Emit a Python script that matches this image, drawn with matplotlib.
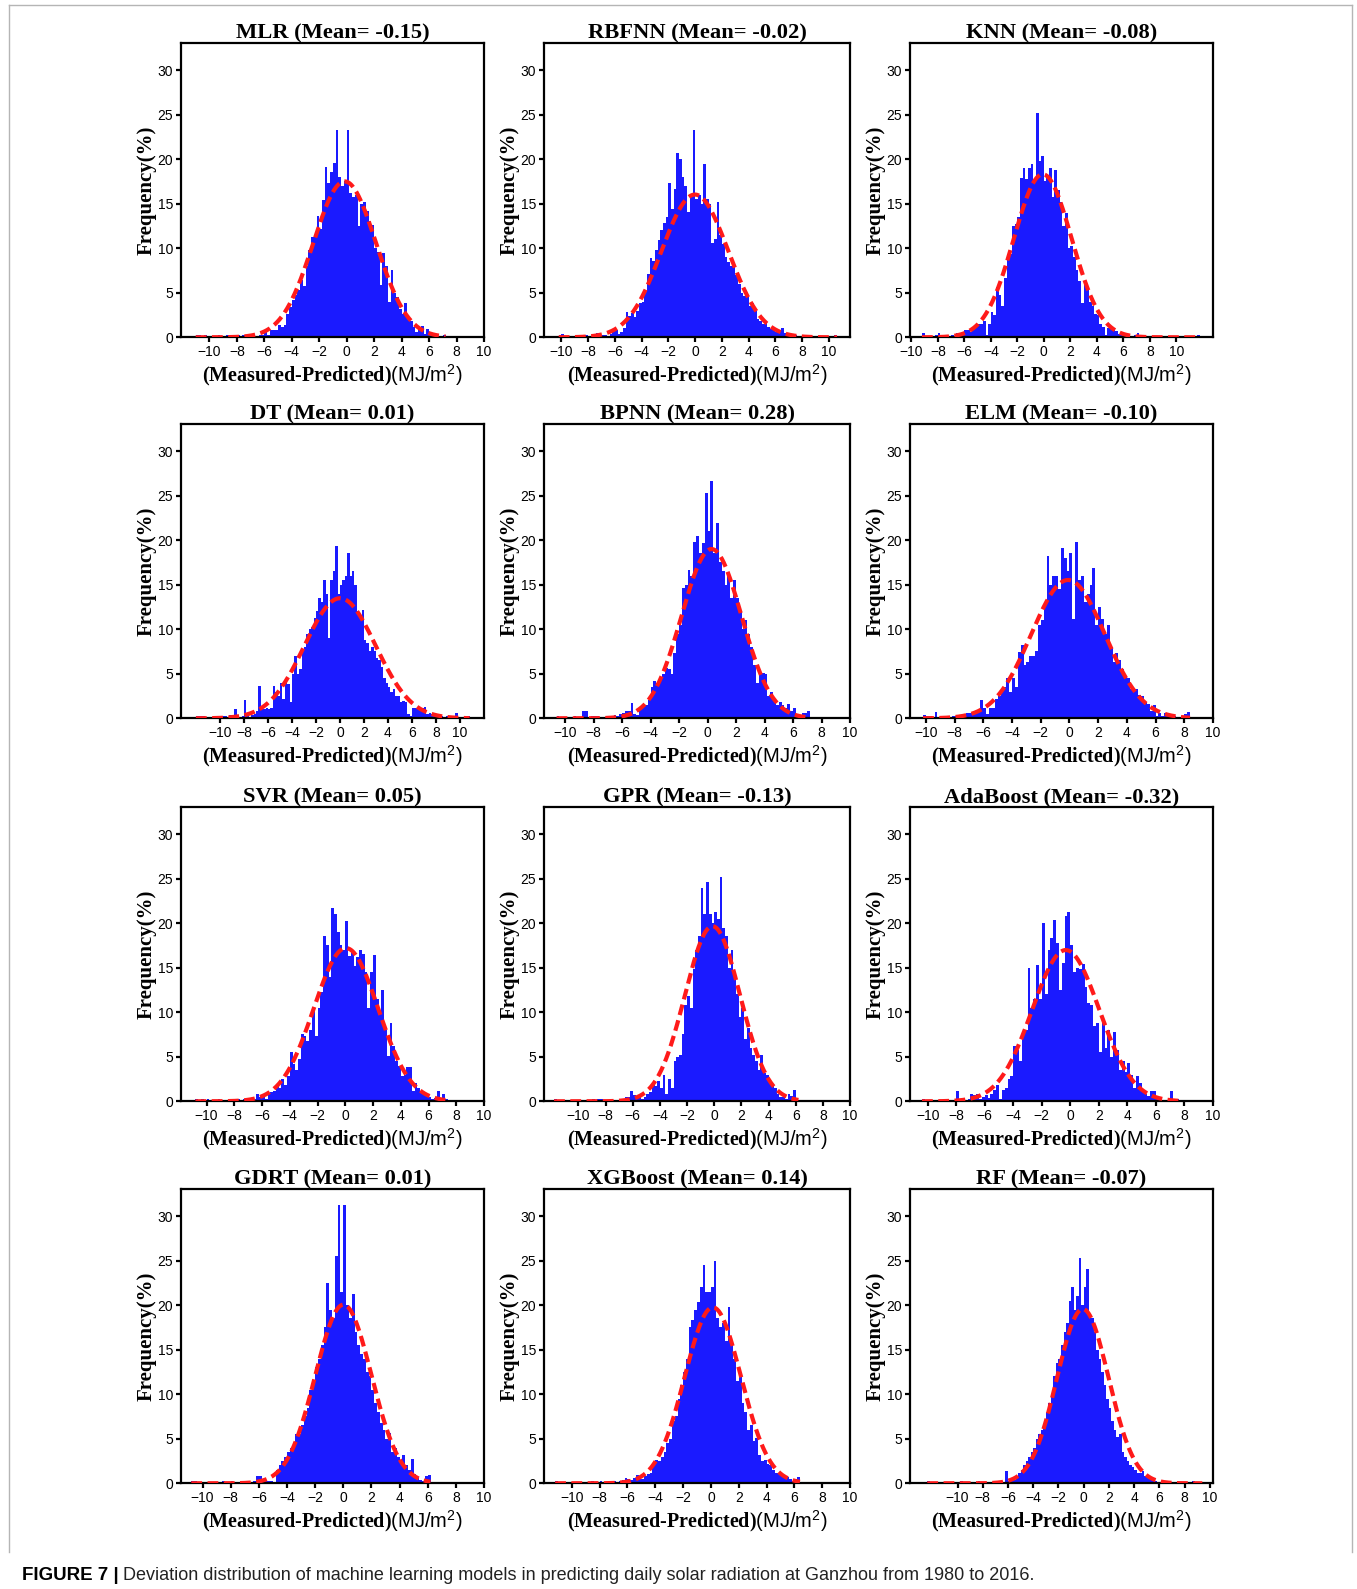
import numpy as np
import matplotlib
matplotlib.use('Agg')
import matplotlib.pyplot as plt
from matplotlib import rcParams
from matplotlib.lines import Line2D

rcParams['font.family'] = 'Liberation Sans'
rcParams['mathtext.fontset'] = 'custom'
rcParams['mathtext.rm'] = 'Liberation Sans'
rcParams['mathtext.it'] = 'Liberation Sans:italic'
rcParams['mathtext.bf'] = 'Liberation Sans:bold'
rcParams['axes.linewidth'] = 1.6

# ---- data ----
models = ['MLR', 'RBFNN', 'KNN', 'DT', 'BPNN', 'ELM',
          'SVR', 'GPR', 'AdaBoost', 'GDRT', 'XGBoost', 'RF']
means = [-0.15, -0.02, -0.08, 0.01, 0.28, -0.10,
         0.05, -0.13, -0.32, 0.01, 0.14, -0.07]
# std of the fitted normal curve (from the curve peak)
sigmas = [2.28, 2.49, 2.18, 2.96, 2.10, 2.57,
          2.32, 2.03, 2.35, 1.99, 2.02, 2.04]
bin_width = 0.2
bin_starts = [-11.0, -10.2, -9.2, -12.0, -10.6, -10.2,
              -10.8, -11.8, -10.4, -10.8, -11.2, -12.4]
xlims = [(-12.07, 10.0), (-11.3, 11.57), (-10.1, 12.77), (-13.24, 12.0),
         (-11.48, 10.0), (-11.11, 10.0), (-11.84, 10.0), (-12.54, 10.0),
         (-11.24, 10.0), (-11.53, 10.0), (-12.0, 10.0), (-13.77, 10.25)]

freq_mlr = [0.3, 0.3, 0.0, 0.3, 0.0, 0.0, 0.0, 0.0, 0.3, 0.0,
            0.0, 0.3, 0.0, 0.0, 0.3, 0.3, 0.0, 0.3, 0.0, 0.3,
            0.3, 0.0, 0.0, 0.3, 0.3, 0.6, 0.3, 0.8, 0.8, 0.8,
            1.4, 1.2, 1.4, 2.6, 3.4, 4.2, 4.8, 5.3, 6.4, 5.8,
            8.0, 9.8, 11.3, 11.3, 13.6, 12.2, 15.4, 19.1, 17.3, 18.6,
            19.6, 23.3, 18.0, 17.0, 17.5, 23.3, 16.2, 15.8, 16.0, 12.5,
            15.0, 15.2, 14.2, 13.0, 12.6, 10.0, 9.6, 5.9, 9.5, 8.0,
            4.0, 7.6, 5.0, 4.5, 3.2, 2.6, 3.8, 2.0, 1.8, 1.2,
            0.6, 1.0, 1.3, 0.4, 0.9, 0.6, 0.3, 0.3, 0.2, 0.0,
            0.3]
freq_rbfnn = [0.3, 0.4, 0.2, 0.0, 0.0, 0.0, 0.2, 0.0, 0.2, 0.2,
              0.3, 0.2, 0.0, 0.2, 0.5, 0.0, 0.3, 0.3, 0.2, 0.4,
              0.8, 0.8, 0.4, 0.6, 1.0, 2.8, 2.4, 2.7, 2.3, 3.0,
              3.9, 4.0, 5.2, 7.1, 8.9, 8.6, 9.8, 10.9, 12.0, 12.8,
              13.5, 17.3, 14.4, 16.6, 20.7, 20.0, 18.0, 17.0, 14.1, 16.0,
              23.3, 15.5, 16.0, 15.0, 19.4, 15.5, 15.0, 10.6, 11.0, 15.2,
              11.5, 10.5, 9.0, 8.5, 8.0, 8.0, 7.0, 6.0, 5.0, 4.6,
              4.8, 3.5, 3.8, 3.0, 2.0, 1.8, 1.5, 1.6, 1.2, 0.9,
              0.8, 0.6, 0.8, 1.0, 0.5, 0.3, 0.2, 0.3, 0.3, 0.2,
              0.0, 0.2, 0.0, 0.0, 0.0, 0.2, 0.2, 0.0, 0.0, 0.0,
              0.0, 0.0, 0.0, 0.3]
freq_knn = [0.5, 0.0, 0.0, 0.0, 0.2, 0.3, 0.5, 0.2, 0.0, 0.3,
            0.2, 0.3, 0.0, 0.5, 0.2, 0.3, 0.8, 0.8, 0.6, 1.0,
            1.2, 1.5, 1.5, 1.8, 0.3, 1.5, 2.8, 2.5, 5.6, 4.8,
            3.5, 6.7, 9.3, 9.3, 12.5, 12.7, 13.5, 17.9, 19.0, 17.8,
            19.0, 19.5, 17.5, 25.2, 19.8, 20.3, 17.5, 18.0, 19.0, 15.8,
            18.8, 16.5, 15.2, 12.5, 14.0, 10.0, 10.2, 9.0, 7.5, 6.3,
            3.8, 6.0, 5.6, 4.0, 3.5, 2.6, 2.5, 1.5, 1.2, 0.3,
            1.0, 1.0, 0.8, 0.7, 0.4, 0.3, 0.2, 0.3, 0.2, 0.0,
            0.3, 0.5, 0.0, 0.0, 0.2, 0.0, 0.0, 0.2, 0.0, 0.0,
            0.0, 0.2, 0.0, 0.0, 0.0, 0.0, 0.0, 0.2, 0.0, 0.0,
            0.0, 0.0, 0.0, 0.0, 0.3]
freq_dt = [0.3, 0.3, 0.3, 0.3, 0.0, 0.0, 0.0, 0.0, 0.0, 0.0,
           0.3, 0.3, 0.3, 0.0, 0.4, 0.0, 1.0, 0.3, 0.0, 0.3,
           2.0, 0.3, 0.0, 0.4, 0.5, 0.8, 3.6, 1.0, 1.0, 1.2,
           1.0, 1.2, 3.6, 3.0, 2.5, 4.0, 2.2, 4.4, 3.8, 1.8,
           5.0, 7.0, 5.0, 5.5, 7.5, 8.0, 9.5, 10.0, 10.2, 11.3,
           12.0, 13.5, 13.0, 15.5, 14.0, 9.0, 15.5, 16.5, 19.3, 14.0,
           15.0, 15.5, 16.0, 18.6, 16.0, 16.5, 15.0, 12.0, 11.5, 12.2,
           8.8, 8.5, 7.5, 8.0, 7.5, 6.8, 6.5, 5.8, 4.5, 4.0,
           3.5, 3.0, 3.3, 2.5, 2.5, 1.8, 1.9, 1.8, 0.5, 0.3,
           1.2, 1.2, 1.3, 1.2, 1.2, 1.3, 0.5, 0.6, 0.5, 0.5,
           0.3, 0.3, 0.3, 0.0, 0.3, 0.0, 0.3, 0.0, 0.6, 0.0,
           0.0, 0.0, 0.3, 0.3]
freq_bpnn = [0.3, 0.1, 0.0, 0.1, 0.0, 0.0, 0.3, 0.0, 0.0, 0.8,
             0.8, 0.0, 0.3, 0.3, 0.3, 0.2, 0.2, 0.0, 0.3, 0.2,
             0.4, 0.3, 0.5, 0.6, 0.8, 0.8, 1.7, 0.5, 0.4, 1.2,
             1.4, 1.5, 2.0, 3.5, 4.2, 4.0, 4.5, 5.0, 5.7, 5.5,
             5.0, 7.3, 9.5, 10.5, 14.6, 15.0, 16.6, 16.0, 19.8, 20.5,
             18.5, 19.7, 25.3, 21.0, 26.6, 18.5, 21.9, 17.5, 16.5, 15.0,
             16.0, 13.5, 15.5, 13.5, 12.0, 10.0, 11.0, 9.5, 8.0, 6.0,
             4.0, 5.2, 5.1, 5.0, 2.5, 3.0, 2.0, 1.5, 1.8, 1.5,
             1.2, 1.6, 0.8, 1.2, 0.4, 0.3, 0.6, 0.6, 0.8]
freq_elm = [0.4, 0.3, 0.3, 0.0, 0.7, 0.0, 0.0, 0.3, 0.3, 0.0,
            0.3, 0.3, 0.3, 0.0, 0.3, 0.6, 0.6, 0.7, 0.8, 0.8,
            2.0, 1.2, 0.5, 1.2, 1.2, 2.2, 2.5, 3.0, 3.5, 4.5,
            3.0, 4.5, 3.5, 7.4, 8.2, 6.0, 6.3, 7.0, 7.0, 7.5,
            10.5, 11.0, 12.8, 18.2, 15.0, 16.0, 16.0, 14.5, 19.1, 18.0,
            16.5, 18.6, 11.2, 19.8, 15.5, 16.0, 13.0, 14.0, 15.0, 16.9,
            10.5, 12.5, 11.2, 9.5, 10.5, 8.0, 6.3, 7.3, 6.5, 5.5,
            4.8, 4.5, 3.3, 3.3, 3.3, 2.6, 2.5, 1.8, 1.6, 0.8,
            1.5, 0.3, 0.6, 0.3, 0.6, 0.4, 0.3, 0.3, 0.2, 0.1,
            0.3, 0.5, 0.7]
freq_svr = [0.3, 0.2, 0.3, 0.0, 0.3, 0.0, 0.0, 0.2, 0.3, 0.2,
            0.0, 0.0, 0.3, 0.3, 0.0, 0.3, 0.2, 0.3, 0.0, 0.0,
            0.3, 0.3, 0.8, 0.5, 0.6, 0.3, 0.8, 1.0, 1.2, 1.8,
            1.5, 2.5, 1.8, 2.8, 5.5, 4.2, 3.5, 4.8, 7.5, 7.3,
            6.8, 8.0, 10.5, 7.3, 10.5, 12.3, 18.5, 17.5, 14.0, 21.7,
            21.0, 19.0, 17.6, 17.0, 20.2, 16.3, 16.9, 15.2, 16.2, 17.0,
            16.5, 14.5, 10.5, 14.5, 16.4, 11.5, 10.0, 12.5, 8.0, 5.1,
            8.8, 6.2, 4.5, 4.0, 2.8, 3.0, 3.8, 3.8, 1.2, 2.0,
            1.5, 1.0, 0.8, 0.6, 0.5, 0.3, 0.4, 1.2, 0.4, 0.8,
            0.3]
freq_gpr = [0.3, 0.0, 0.0, 0.0, 0.0, 0.0, 0.0, 0.2, 0.0, 0.0,
            0.0, 0.0, 0.0, 0.0, 0.3, 0.0, 0.3, 0.3, 0.0, 0.0,
            0.0, 0.0, 0.0, 0.2, 0.2, 0.2, 0.5, 0.5, 1.2, 0.7,
            0.6, 0.6, 0.3, 0.5, 0.8, 1.0, 1.8, 1.7, 2.3, 1.5,
            3.0, 0.8, 2.5, 1.5, 4.5, 5.0, 5.2, 7.5, 10.8, 11.8,
            10.5, 14.8, 17.0, 18.5, 23.9, 21.0, 24.6, 21.0, 20.0, 21.3,
            20.5, 25.2, 19.5, 18.5, 15.0, 17.0, 14.5, 12.0, 9.5, 10.5,
            7.0, 8.2, 6.0, 5.2, 4.5, 3.5, 5.2, 3.2, 3.0, 2.5,
            1.8, 1.5, 0.8, 0.5, 0.5, 0.3, 0.8, 0.6, 1.3, 0.4]
freq_ada = [0.3, 0.1, 0.0, 0.0, 0.0, 0.1, 0.0, 0.0, 0.1, 0.0,
            0.0, 0.2, 1.2, 0.2, 0.3, 0.2, 0.3, 0.8, 0.7, 0.8,
            0.3, 0.5, 0.7, 0.4, 0.8, 1.3, 1.8, 0.3, 1.3, 1.5,
            2.5, 2.8, 6.2, 5.8, 4.5, 7.5, 8.0, 15.0, 10.5, 11.5,
            15.3, 11.5, 20.0, 12.0, 17.0, 18.3, 20.3, 17.8, 12.5, 15.5,
            20.8, 21.2, 17.5, 14.5, 15.0, 14.8, 15.4, 12.8, 11.0, 10.8,
            8.5, 8.8, 5.5, 9.2, 6.0, 8.0, 5.0, 7.8, 5.8, 3.5,
            4.5, 3.3, 4.3, 3.0, 1.5, 2.8, 2.0, 1.3, 0.8, 0.6,
            1.2, 1.2, 0.4, 0.3, 0.2, 0.1, 0.0, 1.2, 0.2, 0.3]
freq_gdrt = [0.3, 0.3, 0.0, 0.0, 0.2, 0.0, 0.0, 0.1, 0.0, 0.0,
             0.2, 0.3, 0.0, 0.2, 0.3, 0.0, 0.2, 0.2, 0.0, 0.3,
             0.3, 0.2, 0.3, 0.8, 0.8, 0.5, 0.3, 0.3, 0.3, 0.2,
             1.5, 2.0, 2.5, 3.0, 3.5, 4.0, 4.0, 5.5, 5.5, 6.5,
             7.5, 8.5, 10.5, 11.0, 13.0, 14.0, 15.5, 17.5, 22.5, 19.5,
             18.5, 25.5, 31.2, 21.5, 31.2, 20.0, 18.5, 21.3, 17.0, 15.5,
             14.5, 14.0, 12.5, 12.0, 10.5, 9.0, 8.0, 6.8, 6.0, 5.0,
             5.6, 3.5, 4.0, 3.0, 2.5, 3.2, 2.0, 1.5, 2.7, 1.0,
             0.6, 0.4, 0.3, 0.8, 0.9]
freq_xgb = [0.3, 0.2, 0.0, 0.2, 0.0, 0.0, 0.2, 0.0, 0.0, 0.1,
            0.0, 0.2, 0.0, 0.3, 0.2, 0.0, 0.3, 0.2, 0.0, 0.2,
            0.0, 0.3, 0.2, 0.3, 0.4, 0.6, 0.5, 0.4, 0.6, 0.9,
            0.7, 0.5, 0.8, 1.0, 1.2, 2.3, 2.6, 2.5, 3.0, 3.5,
            4.5, 5.0, 7.0, 7.5, 9.5, 11.0, 12.5, 14.0, 17.5, 18.3,
            19.5, 20.3, 22.0, 24.5, 21.5, 21.5, 22.0, 24.9, 18.5, 17.5,
            18.0, 16.0, 19.8, 16.0, 14.0, 11.5, 12.5, 9.0, 8.0, 6.0,
            6.5, 4.8, 5.1, 3.2, 2.5, 2.6, 2.2, 2.0, 1.5, 1.2,
            1.0, 1.0, 0.8, 0.7, 0.5, 0.3, 0.5, 0.7]
freq_rf = [0.3, 0.0, 0.0, 0.0, 0.2, 0.0, 0.0, 0.2, 0.0, 0.0,
           0.2, 0.0, 0.0, 0.3, 0.0, 0.2, 0.0, 0.0, 0.2, 0.0,
           0.3, 0.0, 0.2, 0.0, 0.2, 0.0, 0.2, 0.0, 0.2, 0.3,
           0.2, 1.4, 0.3, 0.5, 0.4, 0.8, 1.2, 1.5, 2.0, 2.5,
           3.0, 3.5, 4.0, 5.0, 5.5, 6.0, 6.5, 8.0, 9.0, 10.0,
           12.0, 13.5, 14.0, 15.5, 17.0, 18.0, 20.5, 22.0, 19.5, 21.0,
           25.3, 20.0, 22.0, 24.0, 19.0, 18.5, 17.0, 15.0, 14.0, 12.5,
           11.0, 9.5, 8.5, 7.0, 6.0, 5.2, 5.5, 3.5, 3.0, 2.5,
           2.0, 1.8, 1.5, 1.2, 1.2, 1.4, 0.8, 0.6, 0.5, 0.3,
           0.3, 0.2, 0.2, 0.0, 0.2, 0.0, 0.2, 0.0, 0.0, 0.2,
           0.0, 0.0, 0.2, 0.0, 0.0, 0.3, 0.0, 0.0, 0.2]

freqs = [freq_mlr, freq_rbfnn, freq_knn, freq_dt, freq_bpnn, freq_elm,
         freq_svr, freq_gpr, freq_ada, freq_gdrt, freq_xgb, freq_rf]

# ---- layout (pixels of the 1357x1589 figure) ----
W, H = 1357, 1589
col_edges = [(181, 484), (544, 850), (910, 1213)]
row_tops = [43.3, 424.3, 807.3, 1189.3]
ax_h = 294

serif = 'Liberation Serif'
fig = plt.figure(figsize=(W / 100, H / 100), dpi=100)

for i, name in enumerate(models):
    r, c = divmod(i, 3)
    left, right = col_edges[c]
    ax = fig.add_axes([left / W, 1 - (row_tops[r] + ax_h) / H,
                       (right - left) / W, ax_h / H])

    h = np.array(freqs[i])
    edges = bin_starts[i] + bin_width * np.arange(len(h) + 1)
    ax.stairs(h, edges, fill=True, color='#1a1aff', linewidth=0)

    # fitted normal curve
    xs = np.linspace(edges[0], edges[-1], 400)
    mu, sd = means[i], sigmas[i]
    ys = 100 * np.exp(-(xs - mu) ** 2 / (2 * sd ** 2)) / (sd * np.sqrt(2 * np.pi))
    ax.plot(xs, ys, color='#ff1a1a', linewidth=3.0, dashes=(2.6, 1.3), zorder=3)

    ax.set_xlim(*xlims[i])
    ax.set_ylim(0, 33)
    ax.set_xticks(np.arange(-10, 11, 2))
    ax.set_yticks(np.arange(0, 31, 5))
    ax.tick_params(axis='both', direction='out', labelsize=10, width=1.6,
                   length=3.5, pad=2)

    ax.set_title(f'{name} (Mean= {means[i]:.2f})', fontfamily=serif,
                 fontweight='bold', fontsize=16.2, pad=3)
    ax.set_ylabel('Frequency(%)', fontfamily=serif, fontweight='bold',
                  fontsize=15, labelpad=1)
    ax.set_xlabel(r'(Measured-Predicted)$\mathrm{(MJ/m^2)}$', fontfamily=serif,
                  fontweight='bold', fontsize=14.5, labelpad=2)

# outer frame of the figure panel
for xs_, ys_ in [([8.5, 8.5], [1552, 5]), ([8.5, 1352], [5, 5]), ([1352, 1352], [5, 1552])]:
    fig.add_artist(Line2D([x / W for x in xs_], [1 - y / H for y in ys_],
                          color='#b5b5b5', linewidth=1.0))

# caption
cap_y = 1 - 1576 / H
t1 = fig.text(22 / W, cap_y, 'FIGURE 7 |', fontsize=13.5, fontweight='bold',
              family='Liberation Sans', va='center')
fig.canvas.draw()
bb = t1.get_window_extent()
fig.text((bb.x1 + 4) / W, cap_y,
         'Deviation distribution of machine learning models in predicting daily '
         'solar radiation at Ganzhou from 1980 to 2016.',
         fontsize=13.0, family='Liberation Sans', va='center', color='#222222')

fig.savefig('out.png', dpi=100)
